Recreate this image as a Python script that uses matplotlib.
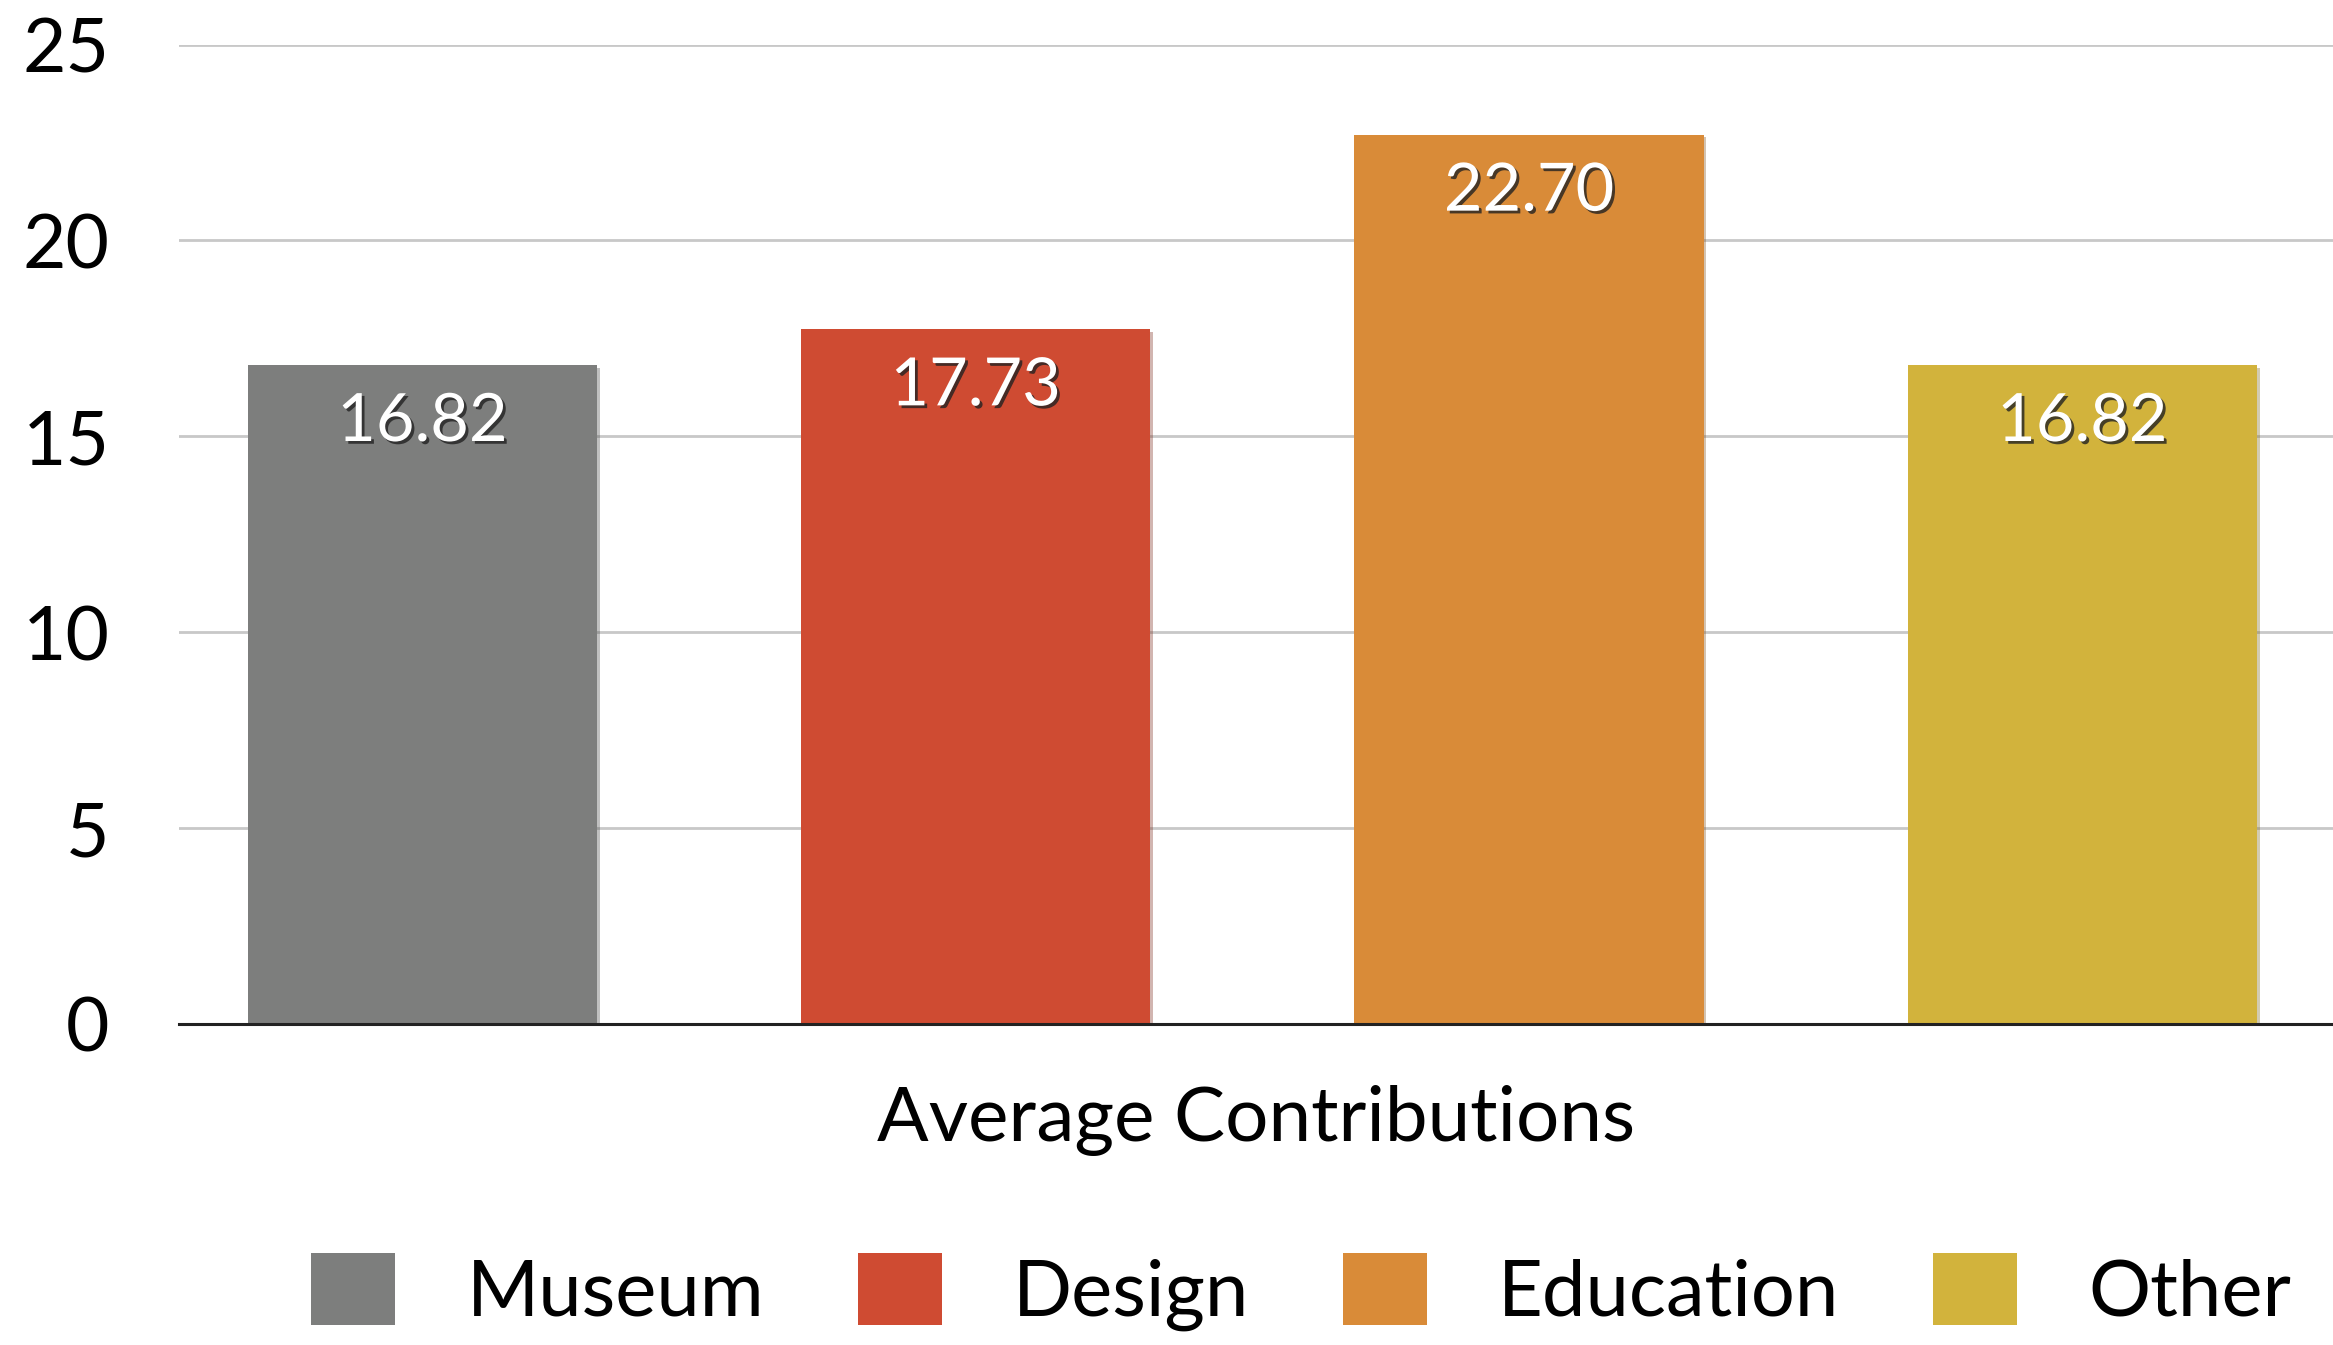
import matplotlib
matplotlib.use("Agg")
import matplotlib.pyplot as plt
import matplotlib.patheffects as pe
from matplotlib.patches import Patch
import numpy as np

# data
categories = ["Museum", "Design", "Education", "Other"]
values = [16.82, 17.73, 22.70, 16.82]
colors = ["#7d7e7d", "#cf4b32", "#d98b38", "#d2b33c"]
yticks = [0, 5, 10, 15, 20, 25]

plt.rcParams['font.family'] = ['Lato', 'DejaVu Sans']

W, H, DPI = 2333, 1345, 100
fig = plt.figure(figsize=(W / DPI, H / DPI), dpi=DPI)
ax = fig.add_axes([179 / W, 1 - 1024 / H, 1 - 179 / W, (1024 - 44.6) / H])

x = np.arange(len(categories))
bars = ax.bar(x, values, width=0.631, color=colors, zorder=3)
for b in bars:
    b.set_path_effects([pe.SimplePatchShadow(offset=(2, -2), alpha=0.35, rho=0.6), pe.Normal()])

ax.set_xlim(-0.44, 3.453)
ax.set_ylim(0, 25)
ax.set_yticks(yticks)
ax.set_xticks([])
ax.yaxis.grid(True, color="#c8c8c8", linewidth=2, zorder=0)
ax.tick_params(axis='y', length=0, pad=50, labelsize=54)
for s in ["top", "right", "left"]:
    ax.spines[s].set_visible(False)
ax.spines["bottom"].set_linewidth(2.2)
ax.spines["bottom"].set_color("#222222")
ax.spines["bottom"].set_zorder(4)

# value labels inside bars
for xi, v in zip(x, values):
    ax.annotate(f"{v:.2f}", (xi, v), xytext=(0, -41), textcoords="offset points",
                ha="center", va="center", fontsize=48, color="white", zorder=5,
                path_effects=[pe.withSimplePatchShadow(offset=(2, -2), shadow_rgbFace="#222222", alpha=0.8)])

ax.set_xlabel("Average Contributions", fontsize=55, labelpad=44)

handles = [Patch(facecolor=c, edgecolor="none") for c in colors]
fig.legend(handles, categories, loc="center left", bbox_to_anchor=(311 / W, 1 - 1292 / H),
           ncol=4, frameon=False, fontsize=56, handlelength=1.08, handleheight=1.05,
           handletextpad=0.92, columnspacing=1.2, borderpad=0, borderaxespad=0)

fig.savefig("out.png", dpi=DPI, facecolor="white")
